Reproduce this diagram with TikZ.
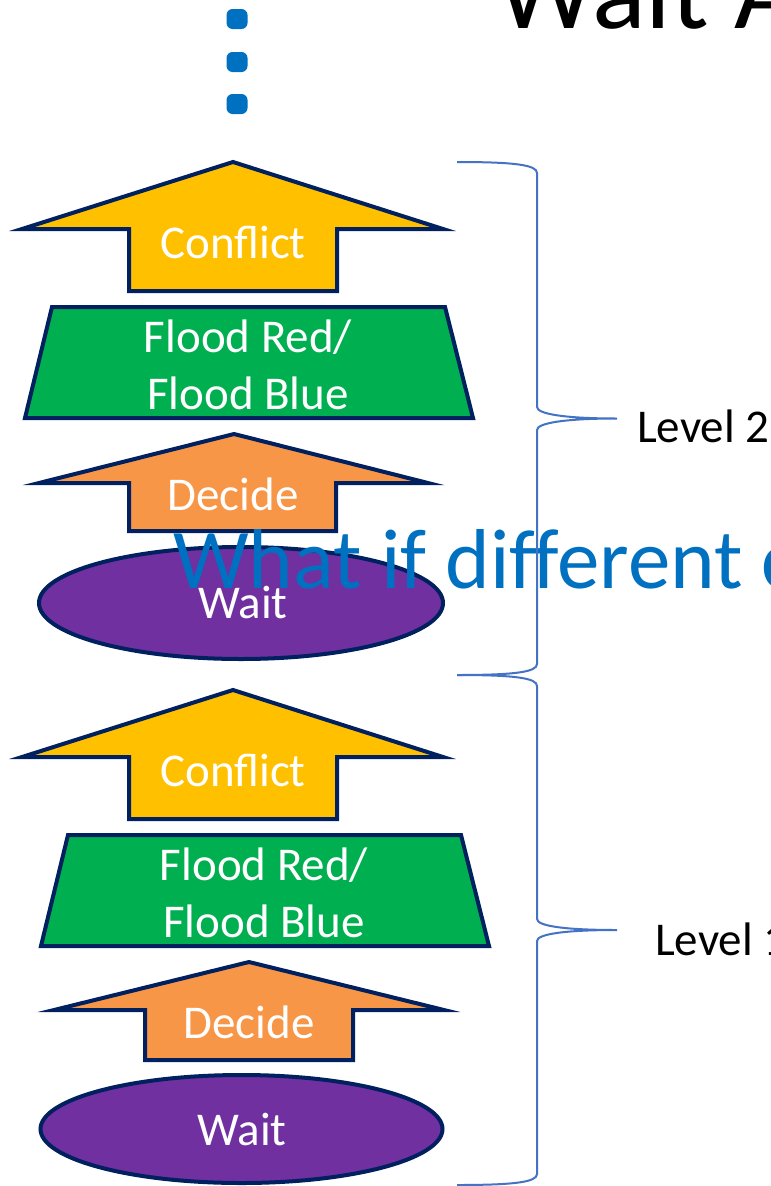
\documentclass[tikz,border=0pt]{standalone}
\usepackage{fontspec}
\setmainfont{Carlito}
\definecolor{navy}{HTML}{002060}
\definecolor{cgold}{HTML}{FFC000}
\definecolor{cgreen}{HTML}{00B050}
\definecolor{corange}{HTML}{F79646}
\definecolor{cpurple}{HTML}{7030A0}
\definecolor{ctitle}{HTML}{0070C0}
\definecolor{cbrace}{HTML}{4472C4}
\begin{document}
\begin{tikzpicture}[x=1pt,y=-1pt,
  shapeline/.style={draw=navy,line width=4pt,line join=miter},
  lbl/.style={text=white,font=\fontsize{47}{52}\selectfont,inner sep=0pt,anchor=base},
  bracepath/.style={draw=cbrace,line width=2pt},
  lvl/.style={font=\fontsize{47}{52}\selectfont,anchor=base west,inner sep=0pt},
  dotbox/.style={fill=ctitle,rounded corners=6pt,minimum width=21pt,minimum height=20pt,inner sep=0pt}]
\useasboundingbox (0,0) rectangle (771,1186);
\fill[white] (0,0) rectangle (771,1186);

% title
\node[font=\fontsize{112}{120}\selectfont,anchor=base west,inner sep=0pt] (title) at (496,28) {Wait A};

% dots
\node[dotbox] (d1) at (237,19) {};
\node[dotbox] (d2) at (237,62) {};
\node[dotbox] (d3) at (237,104) {};

% ---- Level 2 group
\draw[shapeline,fill=cgold] (233,162) -- (443,229) -- (337,229) -- (337,291) -- (129,291) -- (129,229) -- (22,229) -- cycle;
\node[lbl] (conflictB) at (233,258) {Conflict};
\draw[shapeline,fill=cgreen] (52,307) -- (445,307) -- (473,418) -- (25,418) -- cycle;
\node[lbl] (floodBa) at (248,352) {Flood Red/};
\node[lbl] (floodBb) at (248,409) {Flood Blue};
\draw[shapeline,fill=corange] (234,434) -- (428,483) -- (336,483) -- (336,531) -- (129,531) -- (129,483) -- (39,483) -- cycle;
\node[lbl] (decideB) at (233,510) {Decide};
\draw[shapeline,fill=cpurple] (241,603) ellipse [x radius=202, y radius=56];
\node[lbl] (waitB) at (243,618) {Wait};

% ---- Level 1 group
\draw[shapeline,fill=cgold] (233,690) -- (443,757) -- (337,757) -- (337,819) -- (129,819) -- (129,757) -- (22,757) -- cycle;
\node[lbl] (conflictA) at (233,786) {Conflict};
\draw[shapeline,fill=cgreen] (68,835) -- (461,835) -- (489,946) -- (41,946) -- cycle;
\node[lbl] (floodAa) at (264,880) {Flood Red/};
\node[lbl] (floodAb) at (264,937) {Flood Blue};
\draw[shapeline,fill=corange] (249,962) -- (444,1010) -- (353,1010) -- (353,1060) -- (145,1060) -- (145,1010) -- (54,1010) -- cycle;
\node[lbl] (decideA) at (249,1038) {Decide};
\draw[shapeline,fill=cpurple] (241.5,1129) ellipse [x radius=201, y radius=54];
\node[lbl] (waitA) at (242,1145) {Wait};

% overlay title
\node[font=\fontsize{85}{90}\selectfont,text=ctitle,anchor=base west,inner sep=0pt] (question) at (173,588) {What if different c};

% braces
\draw[bracepath] (457,162) .. controls (515,162) and (537,165) .. (537,173) -- (537,407)
   .. controls (537,414) and (565,418.5) .. (617,418.5)
   .. controls (565,418.5) and (537,423) .. (537,430) -- (537,664)
   .. controls (537,672) and (515,675) .. (457,675);
\draw[bracepath] (457,675) .. controls (515,675) and (537,678) .. (537,686) -- (537,919)
   .. controls (537,926) and (565,930) .. (617,930)
   .. controls (565,930) and (537,934) .. (537,941) -- (537,1174)
   .. controls (537,1182) and (515,1185) .. (457,1185);
\node[lvl] (lvlB) at (637,442) {Level 2};
\node[lvl] (lvlA) at (655,955) {Level 1};
\end{tikzpicture}
\end{document}
